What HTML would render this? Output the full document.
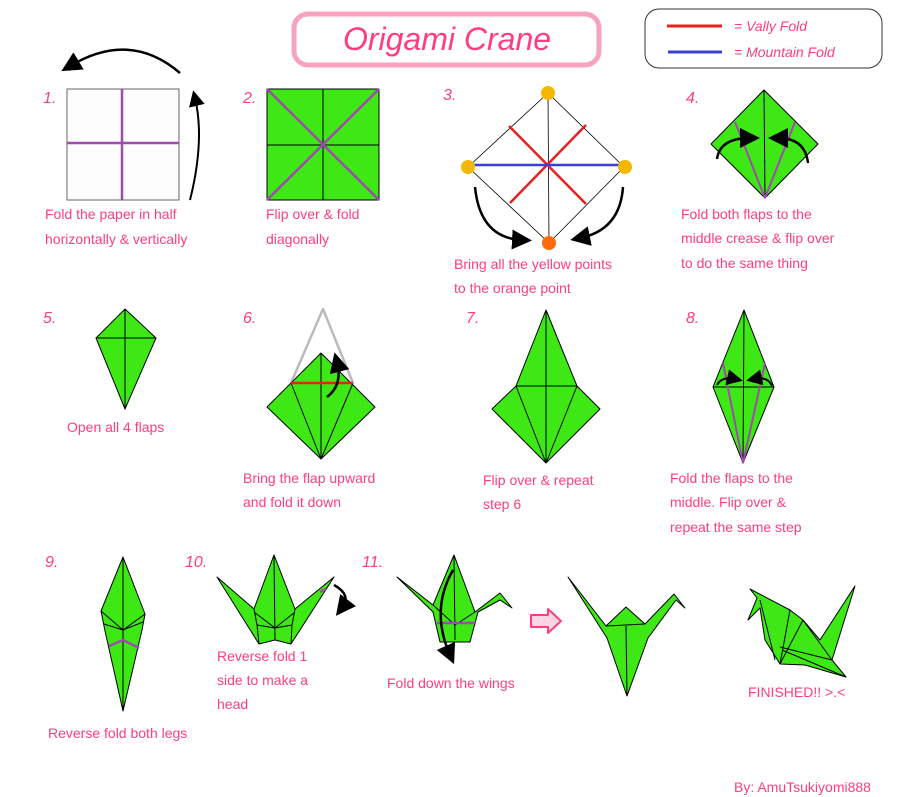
<!DOCTYPE html>
<html><head><meta charset="utf-8"><style>
html,body{margin:0;padding:0;background:#fff;width:900px;height:797px;overflow:hidden}
svg{display:block}
text{font-family:"Liberation Sans",sans-serif;fill:#ff3d82;font-size:14px}
.n{font-style:italic;font-size:16px}
</style></head><body>
<svg width="900" height="797" viewBox="0 0 900 797" xmlns="http://www.w3.org/2000/svg">
<defs><marker id="ah" markerWidth="8" markerHeight="8" refX="4" refY="4" orient="auto" markerUnits="strokeWidth"><path d="M0,0 L8,4 L0,8 z" fill="#000"/></marker></defs>
<g stroke="#000" stroke-width="1" stroke-linejoin="round">
<!-- title -->
<rect x="294" y="14" width="305" height="51" rx="14" fill="#fff" stroke="#f7a3c0" stroke-width="5"/>
<text x="447" y="50" text-anchor="middle" style="font-size:32px;font-style:italic" stroke="none">Origami Crane</text>
<!-- legend -->
<rect x="645" y="9" width="237" height="59" rx="14" fill="#fff" stroke="#333"/>
<line x1="667" y1="26" x2="722" y2="26" stroke="#e82020" stroke-width="3"/>
<line x1="668" y1="52" x2="722" y2="52" stroke="#3a3fd8" stroke-width="3"/>
<text x="734" y="31" stroke="none" style="font-style:italic">= Vally Fold</text>
<text x="734" y="57" stroke="none" style="font-style:italic">= Mountain Fold</text>

<!-- step 1 -->
<rect x="67" y="89" width="112" height="111" fill="#fdfdfd" stroke="#666"/>
<line x1="122" y1="89" x2="122" y2="200" stroke="#a04ab0" stroke-width="2.5"/>
<line x1="67" y1="143" x2="179" y2="143" stroke="#a04ab0" stroke-width="2.5"/>
<path d="M180,73 Q130,30 70,66" fill="none" stroke-width="2.5" marker-end="url(#ah)"/>
<path d="M190,200 Q205,140 195,98" fill="none" stroke-width="2" marker-end="url(#ah)"/>
<!-- step 2 -->
<rect x="267" y="89" width="112" height="111" fill="#3de815"/>
<line x1="323" y1="89" x2="323" y2="200"/><line x1="267" y1="145" x2="379" y2="145"/>
<line x1="267" y1="89" x2="379" y2="200" stroke="#a04ab0" stroke-width="2.5"/>
<line x1="379" y1="89" x2="267" y2="200" stroke="#a04ab0" stroke-width="2.5"/>
<!-- step 3 -->
<path d="M548,93 L624,167 L549,243 L468,167 Z" fill="#fff" stroke-width="0.8"/>
<line x1="548" y1="93" x2="549" y2="243" stroke-width="0.8"/>
<line x1="509" y1="126" x2="586" y2="204" stroke="#e82020" stroke-width="2.5"/>
<line x1="586" y1="125" x2="510" y2="203" stroke="#e82020" stroke-width="2.5"/>
<line x1="473" y1="165" x2="620" y2="165" stroke="#3a3fd8" stroke-width="2.5"/>
<g stroke="none"><ellipse cx="548" cy="93" rx="7" ry="7" fill="#f5b800"/><ellipse cx="468" cy="167" rx="7" ry="7" fill="#f5b800"/><ellipse cx="625" cy="167" rx="7" ry="7" fill="#f5b800"/><ellipse cx="549" cy="243" rx="7" ry="7" fill="#ff6a10"/></g>
<path d="M475,187 Q480,238 522,240" fill="none" stroke-width="2.5" marker-end="url(#ah)"/>
<path d="M623,187 Q620,230 580,238" fill="none" stroke-width="2.5" marker-end="url(#ah)"/>
<!-- step 4 -->
<path d="M764,90 L818,144 L765,198 L711,144 Z" fill="#3de815"/>
<line x1="764" y1="90" x2="765" y2="198"/>
<line x1="765" y1="198" x2="735" y2="122" stroke="#a04ab0" stroke-width="2"/>
<line x1="765" y1="198" x2="795" y2="122" stroke="#a04ab0" stroke-width="2"/>
<path d="M717,159 Q720,138 750,138" fill="none" stroke-width="2.5" marker-end="url(#ah)"/>
<path d="M808,163 Q805,138 778,138" fill="none" stroke-width="2.5" marker-end="url(#ah)"/>

<!-- step 5 -->
<path d="M125,309 L156,338 L125,409 L96,338 Z" fill="#3de815"/>
<line x1="125" y1="309" x2="125" y2="409"/><line x1="96" y1="338" x2="156" y2="338"/>
<!-- step 6 -->
<path d="M291,383 L323,309 L353,383" fill="none" stroke="#bbb" stroke-width="2.5"/>
<path d="M321,353 L375,407 L321,459 L267,407 Z" fill="#3de815"/>
<line x1="321" y1="353" x2="321" y2="459"/>
<line x1="321" y1="459" x2="291" y2="383"/><line x1="321" y1="459" x2="353" y2="383"/>
<line x1="291" y1="383" x2="353" y2="383" stroke="#e82020" stroke-width="2.5"/>
<path d="M327,397 Q343,385 337,362" fill="none" stroke-width="2.5" marker-end="url(#ah)"/>
<!-- step 7 -->
<path d="M546,310 L577,386 L600,409 L546,463 L492,409 L516,386 Z" fill="#3de815"/>
<line x1="546" y1="310" x2="546" y2="463"/>
<line x1="516" y1="386" x2="577" y2="386"/>
<line x1="546" y1="463" x2="516" y2="386"/><line x1="546" y1="463" x2="577" y2="386"/>
<!-- step 8 -->
<path d="M744,310 L774,387 L743,463 L713,387 Z" fill="#3de815"/>
<line x1="744" y1="310" x2="743" y2="463"/><line x1="713" y1="387" x2="774" y2="387"/>
<line x1="743" y1="463" x2="723" y2="363" stroke="#a04ab0" stroke-width="2"/>
<line x1="743" y1="463" x2="765" y2="363" stroke="#a04ab0" stroke-width="2"/>
<path d="M717,385 Q722,376 735,379" fill="none" stroke-width="2" marker-end="url(#ah)"/>
<path d="M772,386 Q768,376 754,379" fill="none" stroke-width="2" marker-end="url(#ah)"/>

<!-- step 9 -->
<path d="M123,557 L145,614 L142,630 L123,711 L105,631 L101,611 Z" fill="#3de815"/>
<line x1="123" y1="557" x2="123" y2="711"/>
<path d="M101,611 L123,630 L145,614 M104,624 L123,630 L143,622" fill="none"/>
<path d="M109,646 L123,640 L139,648" fill="none" stroke="#a04ab0" stroke-width="2.5"/>
<!-- step 10 -->
<path d="M274,555 L295,609 L334,577 L291,644 L275,640 L259,644 L217,577 L254,609 Z" fill="#3de815"/>
<line x1="274" y1="555" x2="275" y2="640"/>
<path d="M254,609 L257,625 L275,628 L292,625 L295,609 M257,625 L259,644 M292,625 L291,644 M254,612 L275,628 L295,612" fill="none"/>
<line x1="320" y1="592" x2="326" y2="589" stroke="#a04ab0" stroke-width="2.5"/>
<path d="M334,585 Q352,595 342,608" fill="none" stroke-width="2.5" marker-end="url(#ah)"/>
<!-- step 11 -->
<path d="M454,555 L475,612 L500,593 L512,608 L500,600 L478,612 L470,642 L440,642 L433,612 L397,577 L433,605 Z" fill="#3de815"/>
<line x1="454" y1="555" x2="455" y2="640"/>
<path d="M433,605 L455,625 L475,612" fill="none"/>
<line x1="437" y1="623" x2="476" y2="623" stroke="#a04ab0" stroke-width="2.5"/>
<path d="M453,570 Q430,610 450,655" fill="none" stroke-width="2.5" marker-end="url(#ah)"/>
<!-- pink arrow -->
<path d="M531,615 L548,615 L548,609 L561,621 L548,633 L548,627 L531,627 Z" fill="#ffd5e2" stroke="#ff3d82" stroke-width="2"/>
<!-- crane -->
<path d="M568,577 L606,626 L626,607 L645,624 L674,594 L685,608 L676,600 L648,638 L627,696 L607,638 Z" fill="#3de815"/>
<line x1="606" y1="626" x2="645" y2="624"/><line x1="626" y1="626" x2="627" y2="696"/>
<!-- finished -->
<path d="M750,589 L790,610 L803,620 L820,640 L855,586 L832,660 L846,677 L805,665 L780,664 L765,640 L760,608 L748,620 L757,598 Z" fill="#3de815"/>
<path d="M803,620 L780,664 M803,620 L832,660 M790,610 L780,664 M760,600 L775,660 M782,650 L846,677 M780,647 L832,660" fill="none"/>

</g>
<g>
<text class="n" x="43" y="103">1.</text><text class="n" x="243" y="103">2.</text><text class="n" x="443" y="100">3.</text><text class="n" x="686" y="103">4.</text>
<text x="45" y="219">Fold the paper in half</text><text x="45" y="244">horizontally &amp; vertically</text>
<text x="266" y="219">Flip over &amp; fold</text><text x="266" y="244">diagonally</text>
<text x="454" y="269">Bring all the yellow points</text><text x="454" y="293">to the orange point</text>
<text x="681" y="219">Fold both flaps to the</text><text x="681" y="243">middle crease &amp; flip over</text><text x="681" y="268">to do the same thing</text>
<text class="n" x="43" y="323">5.</text><text class="n" x="243" y="323">6.</text><text class="n" x="466" y="323">7.</text><text class="n" x="686" y="323">8.</text>
<text x="67" y="432">Open all 4 flaps</text>
<text x="243" y="483">Bring the flap upward</text><text x="243" y="507">and fold it down</text>
<text x="483" y="485">Flip over &amp; repeat</text><text x="483" y="509">step 6</text>
<text x="670" y="483">Fold the flaps to the</text><text x="670" y="507">middle. Flip over &amp;</text><text x="670" y="532">repeat the same step</text>
<text class="n" x="45" y="567">9.</text><text class="n" x="185" y="567">10.</text><text class="n" x="362" y="567">11.</text>
<text x="48" y="738">Reverse fold both legs</text>
<text x="217" y="661">Reverse fold 1</text><text x="217" y="685">side to make a</text><text x="217" y="709">head</text>
<text x="387" y="688">Fold down the wings</text>
<text x="748" y="697">FINISHED!! &gt;.&lt;</text>
<text x="734" y="792">By: AmuTsukiyomi888</text>
</g>
</svg>
</body></html>
